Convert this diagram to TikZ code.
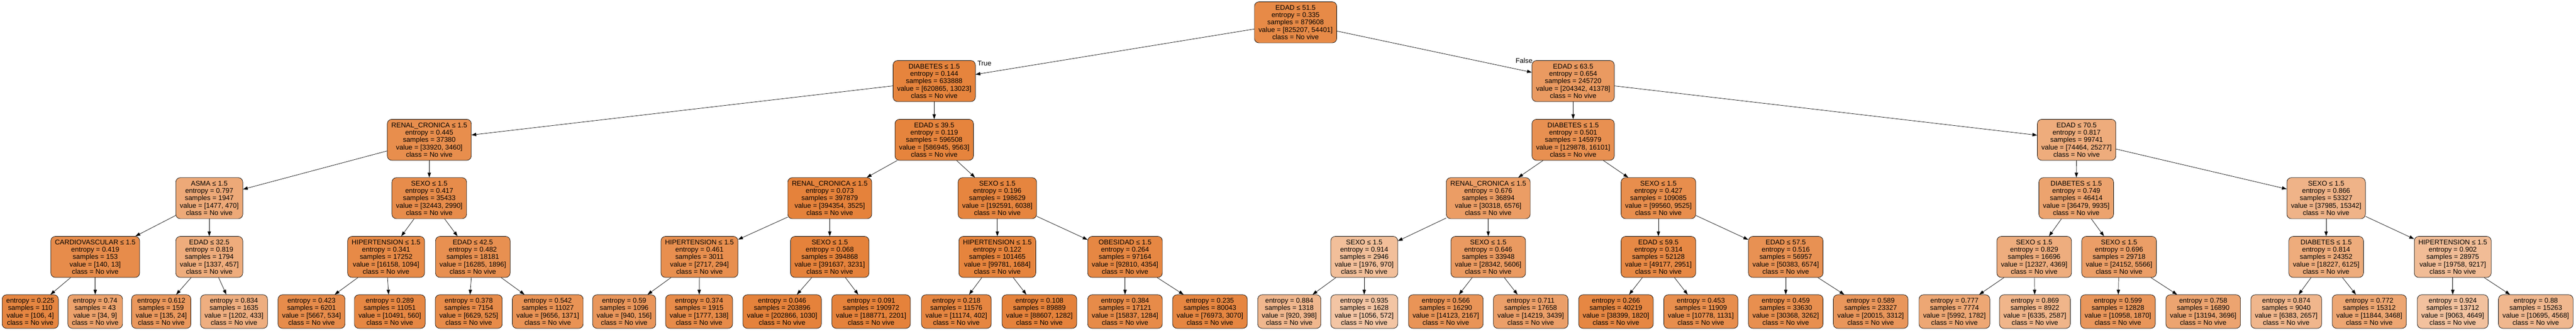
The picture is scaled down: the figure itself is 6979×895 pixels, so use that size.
\documentclass[tikz,border=0pt]{standalone}
\usepackage{fontspec}
\setmainfont{Liberation Sans}
\usetikzlibrary{arrows.meta}
\definecolor{nv}{RGB}{229,129,57}
\tikzset{
  tn/.style={draw=black, line width=1pt, rounded corners=12pt, align=center,
    inner xsep=11pt, inner ysep=0pt, font=\fontsize{18.67}{20}\selectfont},
  intnode/.style={tn, minimum height=111pt},
  leafnode/.style={tn, minimum height=91pt},
  conn/.style={-{Triangle[length=13pt,width=9pt]}, line width=1pt, black},
  tflabel/.style={inner sep=0pt, font=\fontsize{18.67}{20}\selectfont}
}
\newcommand\TNode[9]{\node[intnode, fill=nv!#4] (#1) at (#2,#3)
  {#5\\entropy = #6\\samples = #7\\value = [#8, #9]\\class = No vive};}
\newcommand\TLeaf[8]{\node[leafnode, fill=nv!#4] (#1) at (#2,#3)
  {entropy = #5\\samples = #6\\value = [#7, #8]\\class = No vive};}
\begin{document}
\begin{tikzpicture}[x=1pt,y=-1pt]
\useasboundingbox[fill=white] (0,0) rectangle (6979,895);
\def\LA{60.5}\def\LB{219.5}\def\LC{378.5}\def\LD{536.5}\def\LE{695.5}\def\LF{843.5}
% level 0-1
\TNode{n0}{3510}{\LA}{93}{EDAD ≤ 51.5}{0.335}{879608}{825207}{54401}
\TNode{n1}{2531}{\LB}{98}{DIABETES ≤ 1.5}{0.144}{633888}{620865}{13023}
\TNode{n16}{4262}{\LB}{80}{EDAD ≤ 63.5}{0.654}{245720}{204342}{41378}
% left subtree
\TNode{n2}{1163}{\LC}{90}{RENAL\_CRONICA ≤ 1.5}{0.445}{37380}{33920}{3460}
\TNode{n3}{567}{\LD}{68}{ASMA ≤ 1.5}{0.797}{1947}{1477}{470}
\TNode{n4}{258}{\LE}{91}{CARDIOVASCULAR ≤ 1.5}{0.419}{153}{140}{13}
\TLeaf{l1}{82}{\LF}{96}{0.225}{110}{106}{4}
\TLeaf{l2}{258}{\LF}{74}{0.74}{43}{34}{9}
\TNode{n5}{567}{\LE}{66}{EDAD ≤ 32.5}{0.819}{1794}{1337}{457}
\TLeaf{l3}{437}{\LF}{82}{0.612}{159}{135}{24}
\TLeaf{l4}{634}{\LF}{64}{0.834}{1635}{1202}{433}
\TNode{n6}{1163}{\LD}{91}{SEXO ≤ 1.5}{0.417}{35433}{32443}{2990}
\TNode{n7}{1046}{\LE}{93}{HIPERTENSION ≤ 1.5}{0.341}{17252}{16158}{1094}
\TLeaf{l5}{844}{\LF}{91}{0.423}{6201}{5667}{534}
\TLeaf{l6}{1056}{\LF}{95}{0.289}{11051}{10491}{560}
\TNode{n8}{1281}{\LE}{88}{EDAD ≤ 42.5}{0.482}{18181}{16285}{1896}
\TLeaf{l7}{1270}{\LF}{92}{0.378}{7154}{6629}{525}
\TLeaf{l8}{1484}{\LF}{86}{0.542}{11027}{9656}{1371}
\TNode{n9}{2531}{\LC}{98}{EDAD ≤ 39.5}{0.119}{596508}{586945}{9563}
\TNode{n10}{2248}{\LD}{99}{RENAL\_CRONICA ≤ 1.5}{0.073}{397879}{394354}{3525}
\TNode{n11}{1895}{\LE}{89}{HIPERTENSION ≤ 1.5}{0.461}{3011}{2717}{294}
\TLeaf{l9}{1691}{\LF}{83}{0.59}{1096}{940}{156}
\TLeaf{l10}{1894}{\LF}{92}{0.374}{1915}{1777}{138}
\TNode{n12}{2248}{\LE}{99}{SEXO ≤ 1.5}{0.068}{394868}{391637}{3231}
\TLeaf{l11}{2119}{\LF}{99}{0.046}{203896}{202866}{1030}
\TLeaf{l12}{2360}{\LF}{99}{0.091}{190972}{188771}{2201}
\TNode{n13}{2702}{\LD}{97}{SEXO ≤ 1.5}{0.196}{198629}{192591}{6038}
\TNode{n14}{2702}{\LE}{98}{HIPERTENSION ≤ 1.5}{0.122}{101465}{99781}{1684}
\TLeaf{l13}{2591}{\LF}{96}{0.218}{11576}{11174}{402}
\TLeaf{l14}{2816}{\LF}{99}{0.108}{89889}{88607}{1282}
\TNode{n15}{3048}{\LE}{95}{OBESIDAD ≤ 1.5}{0.264}{97164}{92810}{4354}
\TLeaf{l15}{3048}{\LF}{92}{0.384}{17121}{15837}{1284}
\TLeaf{l16}{3278}{\LF}{96}{0.235}{80043}{76973}{3070}
% right subtree
\TNode{n17}{4262}{\LC}{88}{DIABETES ≤ 1.5}{0.501}{145979}{129878}{16101}
\TNode{n18}{4032}{\LD}{78}{RENAL\_CRONICA ≤ 1.5}{0.676}{36894}{30318}{6576}
\TNode{n19}{3696}{\LE}{51}{SEXO ≤ 1.5}{0.914}{2946}{1976}{970}
\TLeaf{l17}{3493}{\LF}{57}{0.884}{1318}{920}{398}
\TLeaf{l18}{3696}{\LF}{46}{0.935}{1628}{1056}{572}
\TNode{n20}{4032}{\LE}{80}{SEXO ≤ 1.5}{0.646}{33948}{28342}{5606}
\TLeaf{l19}{3917}{\LF}{85}{0.566}{16290}{14123}{2167}
\TLeaf{l20}{4147}{\LF}{76}{0.711}{17658}{14219}{3439}
\TNode{n21}{4493}{\LD}{90}{SEXO ≤ 1.5}{0.427}{109085}{99560}{9525}
\TNode{n22}{4493}{\LE}{94}{EDAD ≤ 59.5}{0.314}{52128}{49177}{2951}
\TLeaf{l21}{4378}{\LF}{95}{0.266}{40219}{38399}{1820}
\TLeaf{l22}{4608}{\LF}{90}{0.453}{11909}{10778}{1131}
\TNode{n23}{4838}{\LE}{87}{EDAD ≤ 57.5}{0.516}{56957}{50383}{6574}
\TLeaf{l23}{4838}{\LF}{89}{0.459}{33630}{30368}{3262}
\TLeaf{l24}{5068}{\LF}{83}{0.589}{23327}{20015}{3312}
\TNode{n24}{5626}{\LC}{66}{EDAD ≤ 70.5}{0.817}{99741}{74464}{25277}
\TNode{n25}{5625}{\LD}{73}{DIABETES ≤ 1.5}{0.749}{46414}{36479}{9935}
\TNode{n26}{5511}{\LE}{65}{SEXO ≤ 1.5}{0.829}{16696}{12327}{4369}
\TLeaf{l25}{5295}{\LF}{70}{0.777}{7774}{5992}{1782}
\TLeaf{l26}{5513}{\LF}{59}{0.869}{8922}{6335}{2587}
\TNode{n27}{5741}{\LE}{77}{SEXO ≤ 1.5}{0.696}{29718}{24152}{5566}
\TLeaf{l27}{5738}{\LF}{83}{0.599}{12828}{10958}{1870}
\TLeaf{l28}{5969}{\LF}{72}{0.758}{16890}{13194}{3696}
\TNode{n28}{6302}{\LD}{60}{SEXO ≤ 1.5}{0.866}{53327}{37985}{15342}
\TNode{n29}{6302}{\LE}{66}{DIABETES ≤ 1.5}{0.814}{24352}{18227}{6125}
\TLeaf{l29}{6194}{\LF}{58}{0.874}{9040}{6383}{2657}
\TLeaf{l30}{6419}{\LF}{71}{0.772}{15312}{11844}{3468}
\TNode{n30}{6645}{\LE}{53}{HIPERTENSION ≤ 1.5}{0.902}{28975}{19758}{9217}
\TLeaf{l31}{6645}{\LF}{49}{0.924}{13712}{9063}{4649}
\TLeaf{l32}{6870}{\LF}{57}{0.88}{15263}{10695}{4568}
% connectors
\foreach \a/\b in {n0/n1,n0/n16,n1/n2,n1/n9,n2/n3,n2/n6,n3/n4,n3/n5,n4/l1,n4/l2,
  n5/l3,n5/l4,n6/n7,n6/n8,n7/l5,n7/l6,n8/l7,n8/l8,n9/n10,n9/n13,n10/n11,n10/n12,
  n11/l9,n11/l10,n12/l11,n12/l12,n13/n14,n13/n15,n14/l13,n14/l14,n15/l15,n15/l16,
  n16/n17,n16/n24,n17/n18,n17/n21,n18/n19,n18/n20,n19/l17,n19/l18,n20/l19,n20/l20,
  n21/n22,n21/n23,n22/l21,n22/l22,n23/l23,n23/l24,n24/n25,n24/n28,n25/n26,n25/n27,
  n26/l25,n26/l26,n27/l27,n27/l28,n28/n29,n28/n30,n29/l29,n29/l30,n30/l31,n30/l32}
  \draw[conn] (\a) -- (\b);
% True / False labels
\node[tflabel, anchor=base west] (tlab) at (2648,178) {True};
\node[tflabel, anchor=base east] (flab) at (4152,171) {False};
\end{tikzpicture}
\end{document}
